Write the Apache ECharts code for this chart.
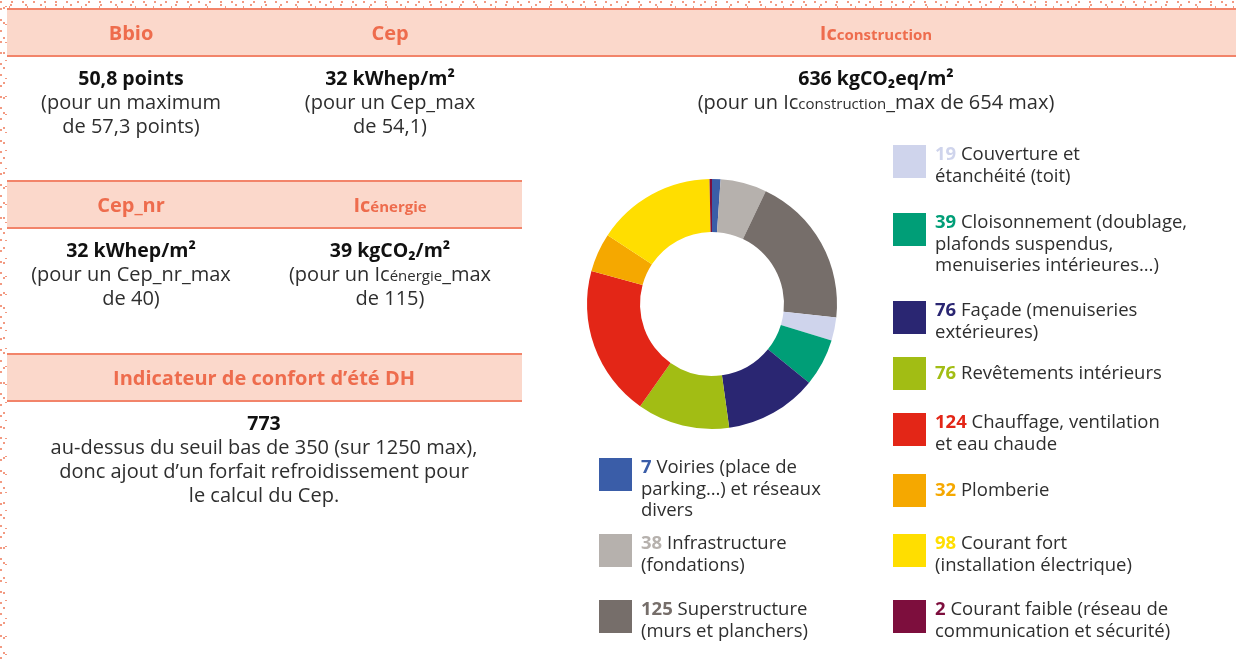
<!DOCTYPE html>
<html>
<head>
<meta charset="utf-8">
<script src="https://cdn.jsdelivr.net/npm/echarts@6/dist/echarts.min.js"></script>
<style>
    html, body { margin: 0; padding: 0; background: #fff; }
    #chart { width: 1236px; height: 667px; }
</style>
</head>
<body>
<div id="chart"></div>
<script>
// Icconstruction par lot (kgCO2eq/m2), sens horaire depuis midi
const lotNames = ['Voiries', 'Infrastructure', 'Superstructure', 'Couverture', 'Cloisonnement', 'Façade',
    'Revêtements', 'Chauffage', 'Plomberie', 'Courant fort', 'Courant faible'];
const lotValues = [7, 38, 125, 19, 39, 76, 76, 124, 32, 98, 2];
const lotColors = ['#3a5da8', '#b6b1ad', '#766e6a', '#cfd4ec', '#009e77', '#2a2672',
    '#a2bd14', '#e32617', '#f5a800', '#ffde00', '#7d0e3d'];
const lotLabels = [
    ['Voiries (place de', 'parking…) et réseaux', 'divers'],
    ['Infrastructure', '(fondations)'],
    ['Superstructure', '(murs et planchers)'],
    ['Couverture et', 'étanchéité (toit)'],
    ['Cloisonnement (doublage,', 'plafonds suspendus,', 'menuiseries intérieures…)'],
    ['Façade (menuiseries', 'extérieures)'],
    ['Revêtements intérieurs'],
    ['Chauffage, ventilation', 'et eau chaude'],
    ['Plomberie'],
    ['Courant fort', '(installation électrique)'],
    ['Courant faible (réseau de', 'communication et sécurité)']
];

// layout of the legend swatches (top-left corner)
const legendPos = [[599, 458], [599, 534], [599, 600], [893, 145], [893, 213], [893, 301],
    [893, 357], [893, 413], [893, 474], [893, 534], [893, 600]];

const FONT = '"Open Sans", "Noto Sans", sans-serif';
const SALMON = '#ee6c4d';
const BAND = '#fbd8cb';
const BAND_LINE = '#f2846a';
const TXT = '#2e2e2e';

let chart = echarts.init(document.getElementById('chart'));

let graphics = [];

// dotted border on top and left
[[2, [2, 9], 0], [5, [2, 13], 5], [7, [1, 17], 9]].forEach(function (d) {
    graphics.push({ type: 'line', silent: true, shape: { x1: 0, y1: d[0], x2: 1236, y2: d[0] },
        style: { stroke: '#f29a82', lineWidth: 2, lineDash: d[1], lineDashOffset: d[2] } });
    graphics.push({ type: 'line', silent: true, shape: { x1: d[0] - 1, y1: 0, x2: d[0] - 1, y2: 667 },
        style: { stroke: '#f29a82', lineWidth: 2, lineDash: d[1], lineDashOffset: d[2] + 3 } });
});

function band(x1, x2, y1, y2) {
    graphics.push({ type: 'rect', silent: true, shape: { x: x1, y: y1, width: x2 - x1, height: y2 - y1 },
        style: { fill: BAND } });
    [y1, y2].forEach(function (y) {
        graphics.push({ type: 'line', silent: true, shape: { x1: x1, y1: y, x2: x2, y2: y },
            style: { stroke: BAND_LINE, lineWidth: 2 } });
    });
}
band(7, 1236, 9, 56);
band(7, 522, 181, 228);
band(7, 522, 354, 401);

function txt(x, y, text, style) {
    graphics.push({ type: 'text', silent: true, x: x, y: y,
        style: Object.assign({ text: text, align: 'center', verticalAlign: 'middle',
            fontFamily: FONT, fontSize: 20, fill: TXT }, style || {}) });
}
let head = { fontSize: 20, fontWeight: 'bold', fill: SALMON,
    rich: { s: { fontSize: 15, fontWeight: 'bold', fill: SALMON, fontFamily: FONT, padding: [3, 0, 0, 0] } } };
let val = { fontWeight: 'bold', fontSize: 19.5, fill: '#111' };
let small = { rich: { s: { fontSize: 15, fill: TXT, fontFamily: FONT, padding: [4, 0, 0, 0] } } };

txt(131, 34, 'Bbio', head);
txt(390, 34, 'Cep', head);
txt(876, 34, 'Ic{s|construction}', head);
txt(131, 79, '50,8 points', val);
txt(131, 103, '(pour un maximum');
txt(131, 127, 'de 57,3 points)');
txt(390, 79, '32 kWhep/m²', val);
txt(390, 103, '(pour un Cep_max');
txt(390, 127, 'de 54,1)');
txt(876, 79, '636 kgCO₂eq/m²', val);
txt(876, 103, '(pour un Ic{s|construction}_max de 654 max)', small);

txt(131, 206, 'Cep_nr', head);
txt(390, 206, 'Ic{s|énergie}', head);
txt(131, 251, '32 kWhep/m²', val);
txt(131, 275, '(pour un Cep_nr_max');
txt(131, 299, 'de 40)');
txt(390, 251, '39 kgCO₂/m²', val);
txt(390, 275, '(pour un Ic{s|énergie}_max', small);
txt(390, 299, 'de 115)');

txt(264, 379, 'Indicateur de confort d’été DH', head);
txt(264, 424, '773', val);
txt(264, 448, 'au-dessus du seuil bas de 350 (sur 1250 max),');
txt(264, 472, 'donc ajout d’un forfait refroidissement pour');
txt(264, 496, 'le calcul du Cep.');

// legend: swatch + coloured value + label
lotNames.forEach(function (name, i) {
    let p = legendPos[i];
    let lines = lotLabels[i];
    graphics.push({ type: 'rect', silent: true, shape: { x: p[0], y: p[1], width: 33, height: 33 },
        style: { fill: lotColors[i] } });
    let first = lines.length > 1 ? p[1] + 10 : p[1] + 16.5;
    let text = '{v|' + lotValues[i] + '} ' + lines.join('\n');
    graphics.push({ type: 'text', silent: true, x: p[0] + 42, y: first - 10.75,
        style: { text: text, align: 'left', verticalAlign: 'top', fontFamily: FONT, fontSize: 18.5,
            lineHeight: 21.5, fill: TXT,
            rich: { v: { fontWeight: 'bold', fontSize: 18.5, fontFamily: FONT, fill: lotColors[i], lineHeight: 21.5 } } } });
});

let option = {
    backgroundColor: '#ffffff',
    animation: false,
    graphic: graphics,
    series: [{
        type: 'pie',
        center: [712, 304],
        radius: [72, 125],
        startAngle: 90,
        clockwise: true,
        silent: true,
        label: { show: false },
        labelLine: { show: false },
        itemStyle: { borderWidth: 0 },
        data: lotNames.map(function (n, i) {
            return { name: n, value: lotValues[i], itemStyle: { color: lotColors[i] } };
        })
    }]
};
chart.setOption(option);
</script>
</body>
</html>
